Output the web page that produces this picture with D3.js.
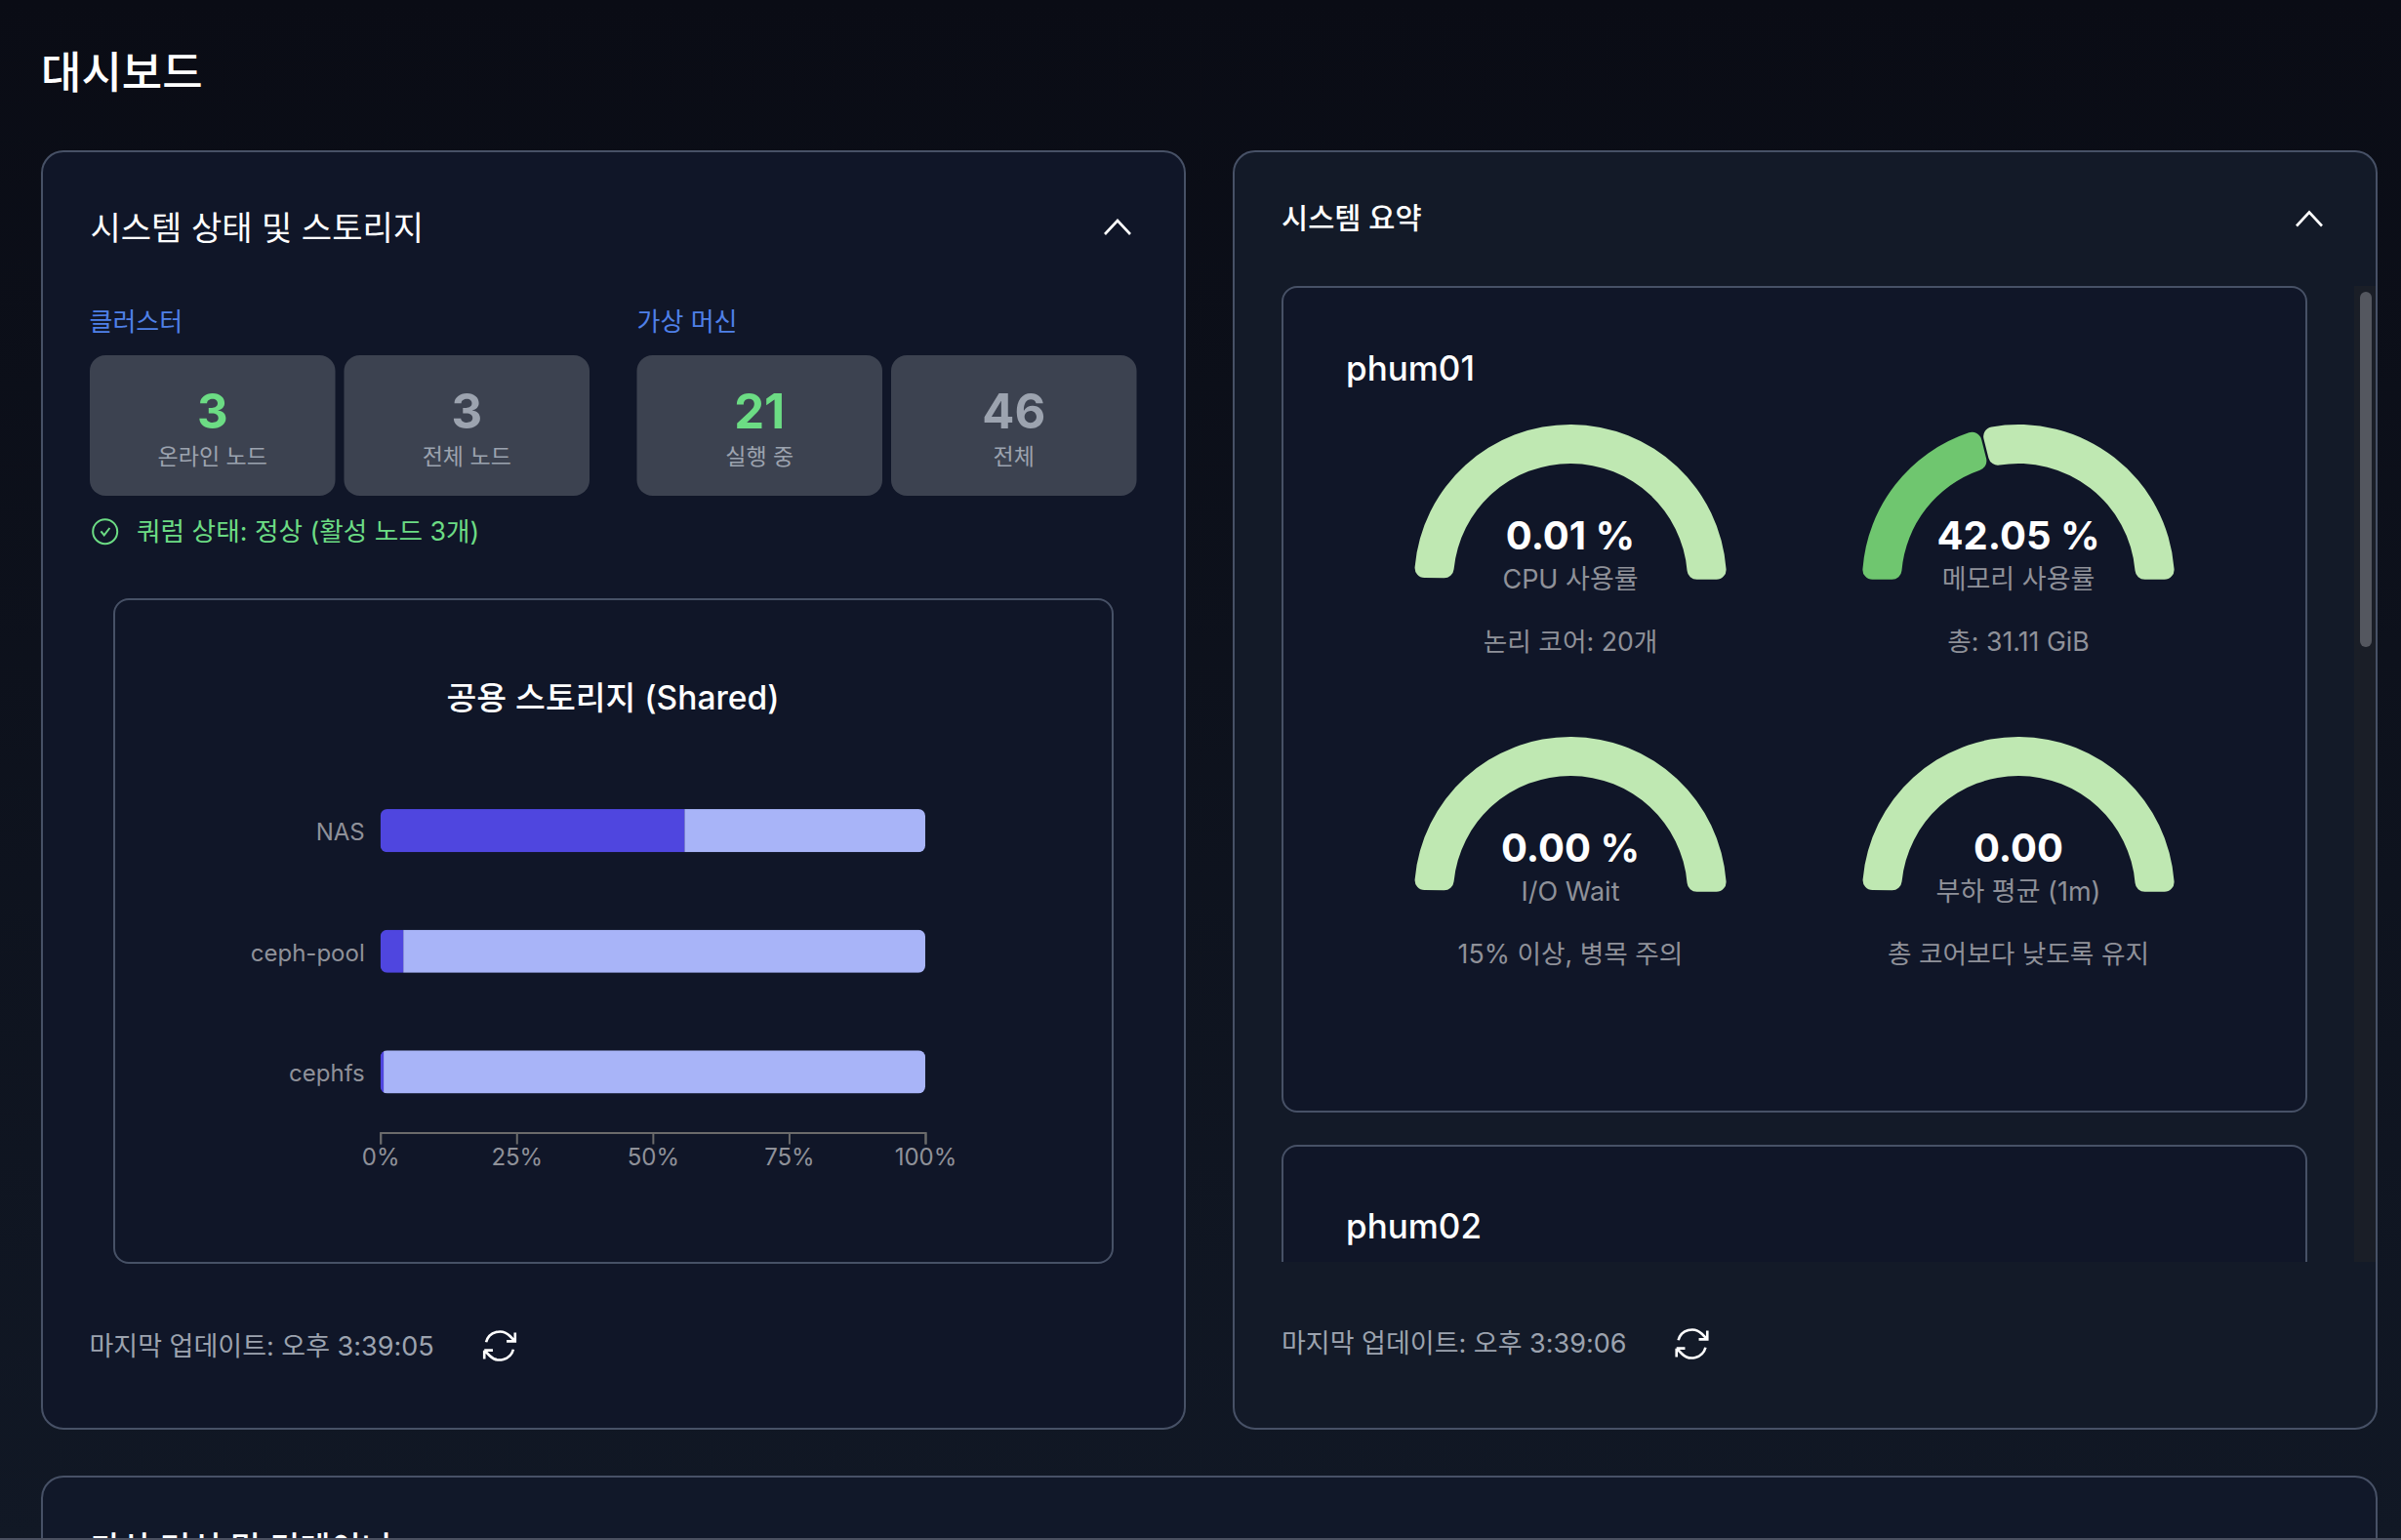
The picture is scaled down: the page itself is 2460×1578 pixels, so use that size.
<!DOCTYPE html>
<html lang="ko">
<head>
<meta charset="utf-8">
<title>대시보드</title>
<script src="https://cdn.jsdelivr.net/npm/d3@7"></script>
<style>
  html, body { margin: 0; padding: 0; width: 2460px; height: 1578px; overflow: hidden; background: #0a0c16; }
  svg { display: block; }
  text { font-family: Inter, "Noto Sans CJK KR", sans-serif; }
</style>
</head>
<body>
<svg id="page" width="2460" height="1578"></svg>
<script>
// 스토리지 막대 데이터
const storageNames = ["NAS", "ceph-pool", "cephfs"];
const storageUsed = [55.8, 4.2, 0.6];
const storageTicks = [0, 25, 50, 75, 100];

// 클러스터 / 가상 머신 요약 숫자
const clusterValues = [3, 3];
const clusterLabels = ["온라인 노드", "전체 노드"];
const vmValues = [21, 46];
const vmLabels = ["실행 중", "전체"];

// 게이지 데이터
const gaugeLabels = ["CPU 사용률", "메모리 사용률", "I/O Wait", "부하 평균 (1m)"];
const gaugeValues = [0.01, 42.05, 0, 0];
const gaugeMax = [100, 100, 100, 20];
const gaugeUnits = [" %", " %", " %", ""];
const gaugeNotes = ["논리 코어: 20개", "총: 31.11 GiB", "15% 이상, 병목 주의", "총 코어보다 낮도록 유지"];

const GRAY = "#9ca3af", GREEN = "#6cdc84", BORDER = "#475166";

const svgRoot = d3.select("#page");
const defs = svgRoot.append("defs");

const bg = defs.append("linearGradient").attr("id", "bg").attr("x1", 0).attr("y1", 0).attr("x2", 0).attr("y2", 1);
bg.append("stop").attr("offset", "0%").attr("stop-color", "#0a0c15");
bg.append("stop").attr("offset", "100%").attr("stop-color", "#111825");
svgRoot.append("rect").attr("width", 2460).attr("height", 1578).attr("fill", "url(#bg)");

const svg = svgRoot.append("g").attr("transform", "translate(0,1)");

function box(g, x, y, w, h, r, fill, stroke) {
  return g.append("rect").attr("x", x).attr("y", y).attr("width", w).attr("height", h).attr("rx", r)
    .attr("fill", fill).attr("stroke", stroke || "none").attr("stroke-width", stroke ? 2 : 0);
}
function label(g, x, y, str, size, fill, weight, anchor) {
  return g.append("text").attr("x", x).attr("y", y).attr("font-size", size).attr("fill", fill)
    .attr("font-weight", weight || 400).attr("text-anchor", anchor || "start").text(str);
}
function chevron(g, x, y) {
  g.append("path").attr("transform", `translate(${x},${y})`).attr("d", "M-13,7L0,-7L13,7")
    .attr("fill", "none").attr("stroke", "#fff").attr("stroke-width", 2.6);
}
function refresh(g, x, y) {
  g.append("path").attr("transform", `translate(${x - 21},${y - 21}) scale(1.75)`)
    .attr("d", "M16.023 9.348h4.992v-.001M2.985 19.644v-4.992m0 0h4.992m-4.993 0 3.181 3.183a8.25 8.25 0 0 0 13.803-3.7M4.031 9.865a8.25 8.25 0 0 1 13.803-3.7l3.181 3.182m0-4.991v4.99")
    .attr("fill", "none").attr("stroke", "#fff").attr("stroke-width", 1.5);
}

label(svg, 42, 90, "대시보드", 45, "#fff", 500);

// 왼쪽 패널
box(svg, 43, 154, 1171, 1309, 22, "#101628", BORDER);
label(svg, 92.5, 245, "시스템 상태 및 스토리지", 34, "#fff", 400);
chevron(svg, 1145, 232);

label(svg, 91.5, 338, "클러스터", 26, "#4f80e8");
label(svg, 652.5, 338, "가상 머신", 26, "#4f80e8");

function statBox(x, value, text, color) {
  box(svg, x, 363, 251.5, 144, 16, "#3c4250");
  label(svg, x + 125.75, 438, value, 49, color, 700, "middle");
  label(svg, x + 125.75, 475, text, 23, GRAY, 400, "middle");
}
statBox(92, clusterValues[0], clusterLabels[0], GREEN);
statBox(352.5, clusterValues[1], clusterLabels[1], GRAY);
statBox(652.5, vmValues[0], vmLabels[0], GREEN);
statBox(913, vmValues[1], vmLabels[1], GRAY);

const q = svg.append("g").attr("transform", "translate(107.7,543.7)");
q.append("circle").attr("r", 12.5).attr("fill", "none").attr("stroke", GREEN).attr("stroke-width", 2);
q.append("path").attr("d", "M-4.3,-0.3L-1,3.7L4.7,-3.7").attr("fill", "none").attr("stroke", GREEN).attr("stroke-width", 2);
label(svg, 140, 553, "쿼럼 상태: 정상 (활성 노드 3개)", 26.7, GREEN);

box(svg, 117, 613, 1023, 680, 15, "#101628", BORDER);
label(svg, 628, 726, "공용 스토리지 (Shared)", 33.5, "#fff", 500, "middle");

// 스토리지 막대
const x = d3.scaleLinear().domain([0, 100]).range([389.7, 948]);
const y = d3.scaleBand().domain(storageNames).range([788.5, 1159]).paddingInner(0.643).paddingOuter(0.32);

const rows = svg.append("g").selectAll("g").data(storageNames).enter().append("g");
rows.each(function (name, i) {
  defs.append("clipPath").attr("id", "bar" + i).append("rect")
    .attr("x", x(0)).attr("y", y(name)).attr("width", x(100) - x(0)).attr("height", y.bandwidth()).attr("rx", 7);
  const row = d3.select(this).attr("clip-path", `url(#bar${i})`);
  row.append("rect").attr("x", x(storageUsed[i])).attr("y", y(name))
    .attr("width", x(100) - x(storageUsed[i])).attr("height", y.bandwidth()).attr("fill", "#a8b4f8");
  row.append("rect").attr("x", x(0)).attr("y", y(name))
    .attr("width", x(storageUsed[i]) - x(0)).attr("height", y.bandwidth()).attr("fill", "#4f46df");
});

const xAxis = svg.append("g").attr("transform", "translate(0,1159.5)")
  .call(d3.axisBottom(x).tickValues(storageTicks).tickFormat(d => d + "%").tickSize(12).tickPadding(4));
xAxis.selectAll("path,line").attr("stroke", "#6b6b6b").attr("stroke-width", 2);
xAxis.selectAll("text").attr("fill", "#8f9199").attr("font-size", 24).attr("font-family", null);

const yAxis = svg.append("g").attr("transform", `translate(${x(0)},0)`)
  .call(d3.axisLeft(y).tickSize(0).tickPadding(16));
yAxis.select(".domain").remove();
yAxis.selectAll("text").attr("fill", "#8f9199").attr("font-size", 24).attr("font-family", null).attr("dy", "0.42em");

label(svg, 91.5, 1388, "마지막 업데이트: 오후 3:39:05", 27, GRAY);
refresh(svg, 512, 1378);

// 오른쪽 패널
box(svg, 1264, 154, 1171, 1309, 22, "#131a28", BORDER);
label(svg, 1313, 233, "시스템 요약", 29.5, "#fff", 500);
chevron(svg, 2366, 223.5);

defs.append("clipPath").attr("id", "scroller").append("rect").attr("x", 1300).attr("y", 290).attr("width", 1134).attr("height", 1002);
const scroller = svg.append("g").attr("clip-path", "url(#scroller)");
scroller.append("rect").attr("x", 2412).attr("y", 292).attr("width", 22).attr("height", 1000).attr("fill", "#1a1e27");
scroller.append("rect").attr("x", 2418).attr("y", 298).attr("width", 12).attr("height", 364).attr("rx", 6).attr("fill", "#54575f");

box(scroller, 1314, 293, 1049, 845, 15, "#101628", BORDER);
label(scroller, 1379, 389, "phum01", 35, "#fff", 500);
box(scroller, 1314, 1173, 1049, 300, 15, "#101628", BORDER);
label(scroller, 1379, 1268, "phum02", 35, "#fff", 500);

// 게이지
const gaugeCx = [1609, 2068, 1609, 2068];
const gaugeCy = [594, 594, 914, 914];
const arc = d3.arc().innerRadius(120).outerRadius(160).cornerRadius(10);
const pie = d3.pie().sort(null).startAngle(-Math.PI / 2).endAngle(Math.PI / 2).padAngle(0.012);

gaugeLabels.forEach((name, i) => {
  const g = scroller.append("g").attr("transform", `translate(${gaugeCx[i]},${gaugeCy[i]})`);
  g.selectAll("path").data(pie([gaugeValues[i], gaugeMax[i] - gaugeValues[i]])).enter().append("path")
    .attr("d", arc).attr("fill", (d, k) => k === 0 ? "#6fc66f" : "#bfe8b2");
  const fmt = gaugeValues[i].toFixed(2) + gaugeUnits[i];
  label(g, 0, -32, fmt, 40, "#fff", 700, "middle");
  label(g, 0, 8, name, 27, "#8f9199", 400, "middle");
  label(g, 0, 72, gaugeNotes[i], 26.7, "#8f9199", 400, "middle");
});

label(svg, 1313, 1385, "마지막 업데이트: 오후 3:39:06", 27, GRAY);
refresh(svg, 1733.5, 1376);

// 아래쪽 패널 (잘림)
box(svg, 43, 1512, 2392, 200, 22, "#111829", BORDER);
label(svg, 92.5, 1598, "가상 머신 및 컨테이너", 34, "#fff", 500);
svgRoot.append("rect").attr("x", 0).attr("y", 1576).attr("width", 2460).attr("height", 2).attr("fill", "#4b5060");
</script>
</body>
</html>
